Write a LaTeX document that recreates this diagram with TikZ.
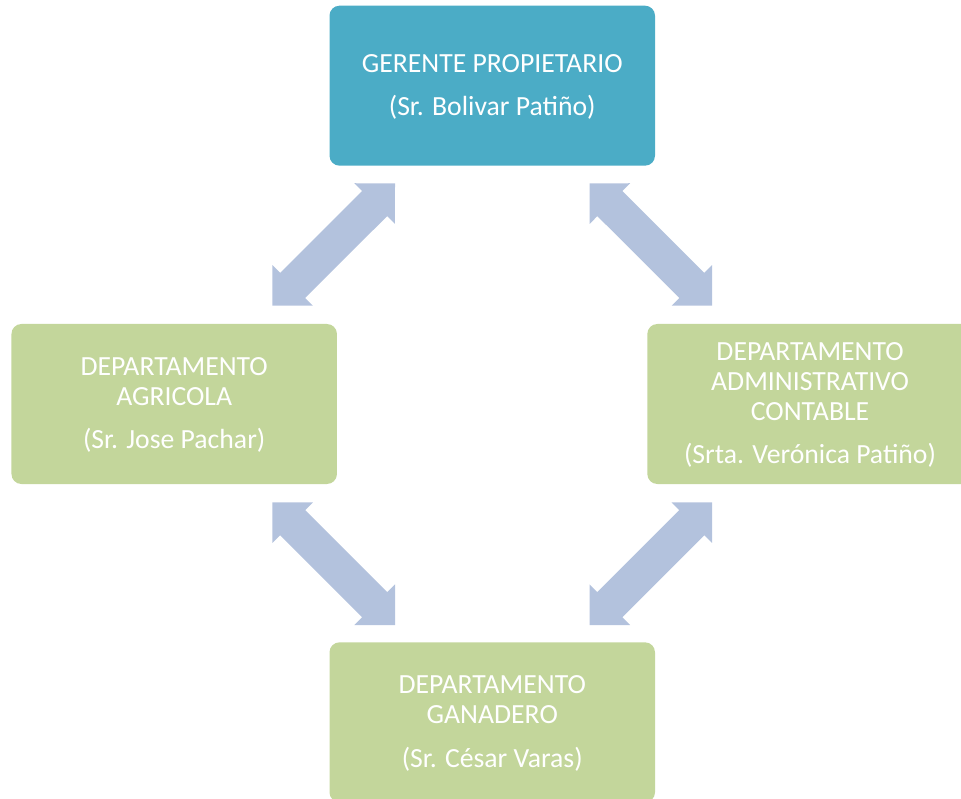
\documentclass[tikz,border=0pt]{standalone}
\usepackage{fontspec}
\setmainfont{Carlito}
\usetikzlibrary{calc}
\definecolor{tealbox}{RGB}{75,172,198}
\definecolor{greenbox}{RGB}{195,214,155}
\definecolor{arrowc}{RGB}{179,194,221}
\newcommand\topstrutx{\rule{0pt}{26pt}}
\newcommand\botstrutx{\rule[-9.8pt]{0pt}{9.8pt}}
% double block arrow between two named coordinates
\newcommand\blockarr[2]{%
  \fill[arrowfill] (#1)
    -- ($(#1)!28.75pt!(#2)!28.75pt!90:(#2)$)
    -- ($(#1)!28.75pt!(#2)!17.7pt!90:(#2)$)
    -- ($(#2)!28.75pt!(#1)!17.7pt!-90:(#1)$)
    -- ($(#2)!28.75pt!(#1)!28.75pt!-90:(#1)$)
    -- (#2)
    -- ($(#2)!28.75pt!(#1)!28.75pt!90:(#1)$)
    -- ($(#2)!28.75pt!(#1)!17.7pt!90:(#1)$)
    -- ($(#1)!28.75pt!(#2)!17.7pt!-90:(#2)$)
    -- ($(#1)!28.75pt!(#2)!28.75pt!-90:(#2)$)
    -- cycle;}
\begin{document}
\begin{tikzpicture}[x=1pt,y=-1pt,
  box/.style={rounded corners=10pt, minimum width=325.5pt, minimum height=160pt,
    inner sep=0pt, outer sep=0pt, text=white, align=center,
    font=\fontsize{27.7}{29.8}\selectfont},
  topbox/.style={box, fill=tealbox},
  deptbox/.style={box, fill=greenbox},
  arrowfill/.style={fill=arrowc}]
\useasboundingbox (0,0) rectangle (961,799);
\clip (0,0) rectangle (961,799);

\node[topbox] (ger) at (492.25,85.7)
  {\topstrutx GERENTE PROPIETARIO\\[13.6pt](Sr. Bolivar Patiño)\botstrutx};
\node[deptbox] (agr) at (174.2,404)
  {\topstrutx DEPARTAMENTO\\AGRICOLA\\[13.6pt](Sr. Jose Pachar)\botstrutx};
\node[deptbox] (adm) at (810.05,404)
  {\topstrutx DEPARTAMENTO\\ADMINISTRATIVO\\CONTABLE\\[13.6pt](Srta. Verónica Patiño)\botstrutx};
\node[deptbox] (gan) at (492.25,722.3)
  {\topstrutx DEPARTAMENTO\\GANADERO\\[13.6pt](Sr. César Varas)\botstrutx};

\coordinate (a1s) at (272.3,305.7);
\coordinate (a1e) at (395,183.3);
\coordinate (a2s) at (589.5,183.3);
\coordinate (a2e) at (712.2,305.7);
\coordinate (a3s) at (272.3,502.3);
\coordinate (a3e) at (395,625);
\coordinate (a4s) at (589.5,625);
\coordinate (a4e) at (712.2,502.3);

\blockarr{a1s}{a1e}
\blockarr{a2s}{a2e}
\blockarr{a3s}{a3e}
\blockarr{a4s}{a4e}
\end{tikzpicture}
\end{document}
